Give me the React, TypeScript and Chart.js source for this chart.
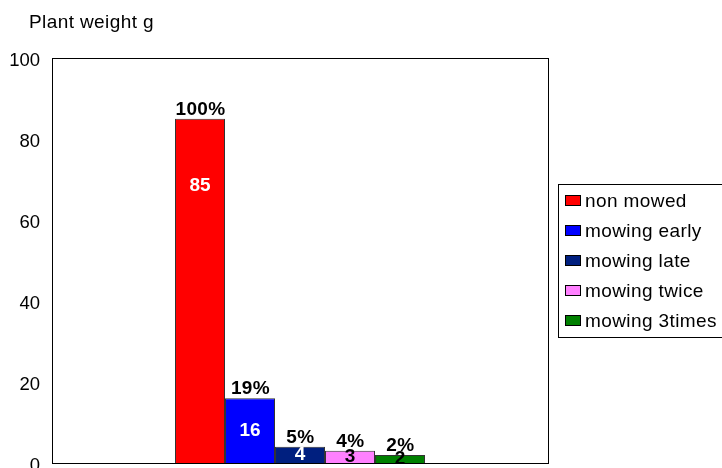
import React, { useEffect, useRef } from 'react';
import { Chart, registerables } from 'chart.js';

Chart.register(...registerables);

const seriesNames = ['non mowed', 'mowing early', 'mowing late', 'mowing twice', 'mowing 3times'];
const plantWeight = [85, 16, 4, 3, 2];
const percentLabels = ['100%', '19%', '5%', '4%', '2%'];
const yTicks = [0, 20, 40, 60, 80, 100];
const titleText = 'Plant weight g';

const seriesColors = ['#FF0000', '#0000FF', '#001F7F', '#FF80FF', '#008000'];
const valueTextColors = ['#FFFFFF', '#FFFFFF', '#FFFFFF', '#000000', '#000000'];

const FONT = 'Arial, "Liberation Sans", sans-serif';

const decor = {
  id: 'decor',
  afterDatasetsDraw(chart: any) {
    const ctx = chart.ctx as CanvasRenderingContext2D;
    const { left, top, right, bottom } = chart.chartArea;
    ctx.save();
    // frame
    ctx.strokeStyle = '#000';
    ctx.lineWidth = 1;
    ctx.strokeRect(Math.round(left) + 0.5, Math.round(top) + 0.5, Math.round(right - left), Math.round(bottom - top));

    // bar labels
    chart.data.datasets.forEach((_ds: any, i: number) => {
      const meta = chart.getDatasetMeta(i);
      const el = meta.data[0];
      if (!el) return;
      const { x, y, base } = el.getProps(['x', 'y', 'base'], true);
      ctx.font = `bold 19px ${FONT}`;
      (ctx as any).letterSpacing = '0.4px';
      ctx.textAlign = 'center';
      ctx.textBaseline = 'alphabetic';
      ctx.fillStyle = '#000';
      ctx.fillText(percentLabels[i], x + 0.5, y - 4);
      (ctx as any).letterSpacing = '0px';
      ctx.textBaseline = 'middle';
      ctx.fillStyle = valueTextColors[i];
      ctx.fillText(String(plantWeight[i]), x, Math.min(y + 67, (y + base) / 2));
    });

    // title
    ctx.font = `19px ${FONT}`;
    (ctx as any).letterSpacing = '0.4px';
    ctx.textAlign = 'left';
    ctx.textBaseline = 'alphabetic';
    ctx.fillStyle = '#000';
    ctx.fillText(titleText, 29, 28);

    // legend
    ctx.strokeStyle = '#000';
    ctx.strokeRect(558.5, 184.5, 200, 153);
    seriesNames.forEach((name, i) => {
      const cy = 201 + i * 30;
      ctx.fillStyle = seriesColors[i];
      ctx.fillRect(565, cy - 6, 16, 11);
      ctx.strokeStyle = '#000';
      ctx.strokeRect(565.5, cy - 5.5, 15, 10);
      ctx.fillStyle = '#000';
      ctx.textBaseline = 'middle';
      ctx.font = `19px ${FONT}`;
      (ctx as any).letterSpacing = '0.4px';
      ctx.fillText(name, 585, cy + 1);
    });
    ctx.restore();
  },
};

export default function App() {
  const ref = useRef<HTMLCanvasElement>(null);
  useEffect(() => {
    if (!ref.current) return;
    const chart = new Chart(ref.current, {
      type: 'bar',
      data: {
        labels: [''],
        datasets: seriesNames.map((name, i) => ({
          label: name,
          data: [plantWeight[i]],
          backgroundColor: seriesColors[i],
          borderColor: '#333333',
          borderWidth: 1,
        })),
      },
      options: {
        responsive: false,
        animation: false,
        layout: { padding: { left: 0, top: 58, right: 174, bottom: 5 } },
        datasets: { bar: { categoryPercentage: 0.504, barPercentage: 1 } },
        plugins: {
          legend: { display: false },
          title: { display: false },
          tooltip: { enabled: false },
        },
        scales: {
          x: { display: false },
          y: {
            min: 0,
            max: 100,
            afterBuildTicks: (s: any) => {
              s.ticks = yTicks.map((v) => ({ value: v }));
            },
            ticks: {
              color: '#000',
              font: { family: FONT, size: 18.5 },
              padding: 12,
              labelOffset: 3,
            },
            grid: { display: false, drawTicks: false },
            border: { display: false },
            afterFit: (s: any) => {
              s.width = 52;
              s.paddingTop = 0;
              s.paddingBottom = 0;
            },
          },
        },
      },
      plugins: [decor],
    });
    return () => chart.destroy();
  }, []);
  return (
    <div style={{ position: 'absolute', left: 0, top: 0, width: 722, height: 468, background: '#fff' }}>
      <canvas ref={ref} width={722} height={468} style={{ display: 'block' }} />
    </div>
  );
}
